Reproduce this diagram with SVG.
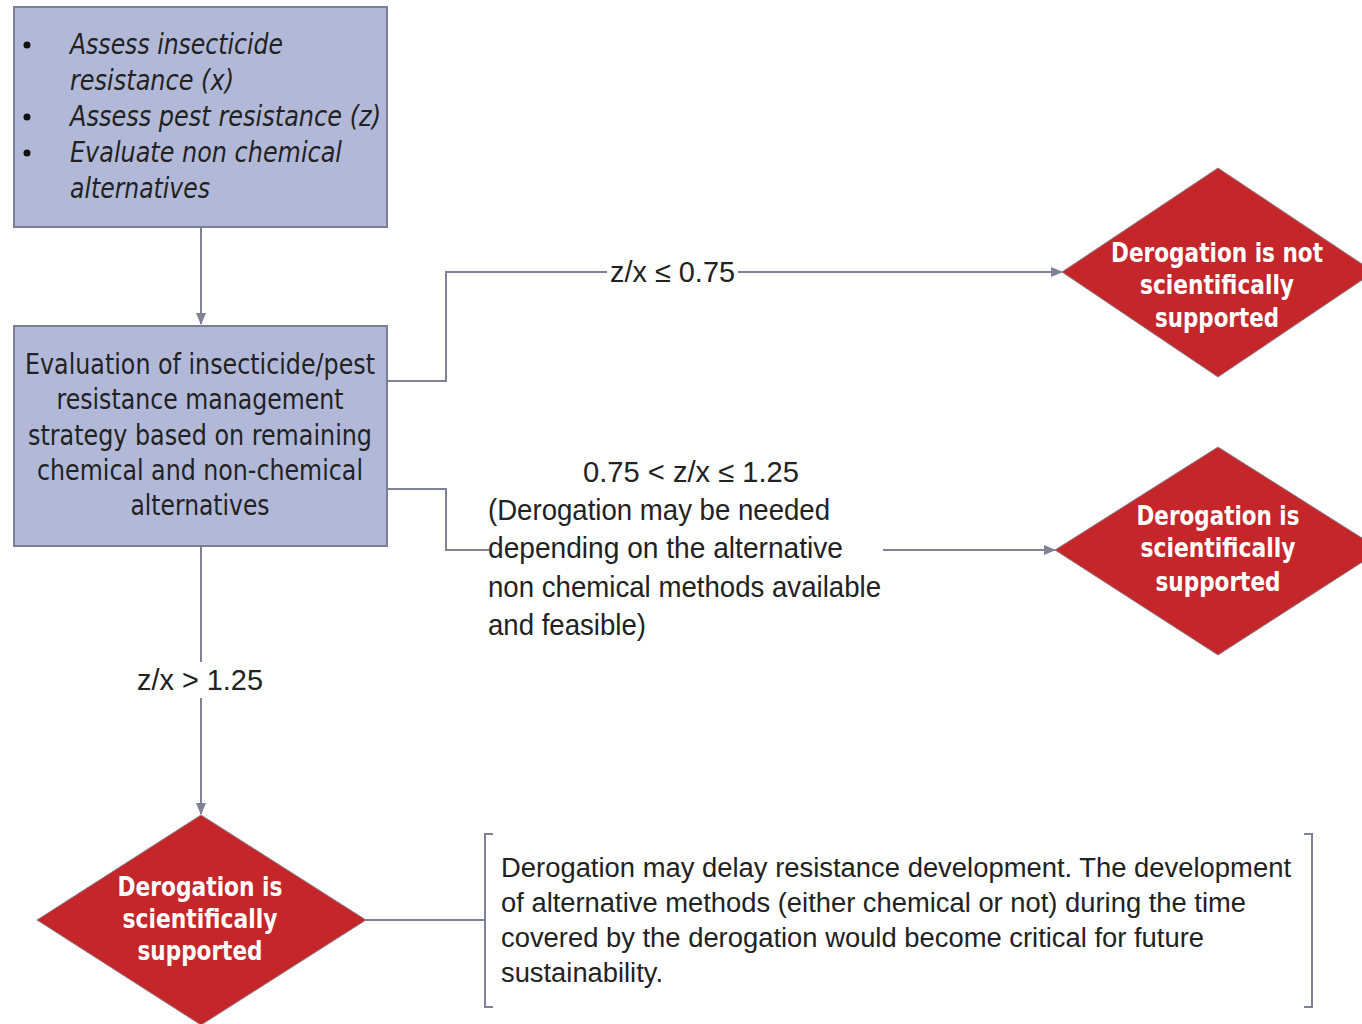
<svg xmlns="http://www.w3.org/2000/svg" width="1362" height="1024" viewBox="0 0 1362 1024">
<style>
.box{fill:#b2b9d8;stroke:#7b7f95;stroke-width:2}
.dia{fill:#c4262a;stroke:#8a7f8a;stroke-width:1}
.conn{fill:none;stroke:#7f8196;stroke-width:2}
.bg{fill:#ffffff}
.it{font-family:"DejaVu Sans",Verdana,sans-serif;font-style:italic;font-size:28px;fill:#222}
.bx{font-family:"DejaVu Sans",Verdana,sans-serif;font-size:28px;fill:#222;text-anchor:middle}
.dt{font-family:"DejaVu Sans",Verdana,sans-serif;font-weight:bold;font-size:26px;fill:#ffffff;text-anchor:middle}
.lb{font-family:"Liberation Sans",Arial,sans-serif;font-size:29px;fill:#222}
.nt{font-family:"Liberation Sans",Arial,sans-serif;font-size:27px;fill:#222}
</style>
<defs>
<marker id="arr" markerWidth="12" markerHeight="10" refX="11" refY="5" orient="auto" markerUnits="userSpaceOnUse">
<path d="M0,0 L12,5 L0,10 Z" fill="#7f8196"/>
</marker>
</defs>

<g id="connectors">
<path class="conn" d="M201,227 V324" marker-end="url(#arr)"/>
<path class="conn" d="M387,381 H446 V272 H1062" marker-end="url(#arr)"/>
<path class="conn" d="M387,489 H446 V550 H1055" marker-end="url(#arr)"/>
<path class="conn" d="M201,546 V814" marker-end="url(#arr)"/>
<path class="conn" d="M366,920 H484"/>
<rect class="bg" x="607" y="257" width="131" height="32"/>
<rect class="bg" x="489" y="452" width="394" height="195"/>
<rect class="bg" x="130" y="662" width="140" height="36"/>
<text class="lb" x="610" y="282" textLength="125" lengthAdjust="spacingAndGlyphs">z/x ≤ 0.75</text>
<text class="lb" x="583" y="482" textLength="216" lengthAdjust="spacingAndGlyphs">0.75 &lt; z/x ≤ 1.25</text>
<text class="lb" x="488" y="520" textLength="342" lengthAdjust="spacingAndGlyphs">(Derogation may be needed</text>
<text class="lb" x="488" y="558" textLength="355" lengthAdjust="spacingAndGlyphs">depending on the alternative</text>
<text class="lb" x="488" y="597" textLength="393" lengthAdjust="spacingAndGlyphs">non chemical methods available</text>
<text class="lb" x="488" y="635" textLength="158" lengthAdjust="spacingAndGlyphs">and feasible)</text>
<text class="lb" x="137" y="690" textLength="126" lengthAdjust="spacingAndGlyphs">z/x &gt; 1.25</text>
</g>

<g id="assess">
<rect class="box" x="14" y="7" width="373" height="220"/>
<circle cx="27" cy="45" r="3.5" fill="#111"/>
<circle cx="27" cy="117" r="3.5" fill="#111"/>
<circle cx="27" cy="153" r="3.5" fill="#111"/>
<text class="it" x="70" y="54" textLength="213" lengthAdjust="spacingAndGlyphs">Assess insecticide</text>
<text class="it" x="70" y="90" textLength="164" lengthAdjust="spacingAndGlyphs">resistance (x)</text>
<text class="it" x="70" y="126" textLength="311" lengthAdjust="spacingAndGlyphs">Assess pest resistance (z)</text>
<text class="it" x="70" y="162" textLength="272" lengthAdjust="spacingAndGlyphs">Evaluate non chemical</text>
<text class="it" x="70" y="198" textLength="140" lengthAdjust="spacingAndGlyphs">alternatives</text>
</g>

<g id="evaluation">
<rect class="box" x="14" y="326" width="373" height="220"/>
<text class="bx" x="200" y="374" textLength="350" lengthAdjust="spacingAndGlyphs">Evaluation of insecticide/pest</text>
<text class="bx" x="200" y="409" textLength="287" lengthAdjust="spacingAndGlyphs">resistance management</text>
<text class="bx" x="200" y="445" textLength="344" lengthAdjust="spacingAndGlyphs">strategy based on remaining</text>
<text class="bx" x="200" y="480" textLength="326" lengthAdjust="spacingAndGlyphs">chemical and non-chemical</text>
<text class="bx" x="200" y="515" textLength="139" lengthAdjust="spacingAndGlyphs">alternatives</text>
</g>

<g id="not-supported">
<polygon class="dia" points="1062,272 1218,168 1374,272 1218,377"/>
<text class="dt" x="1217" y="262" textLength="212" lengthAdjust="spacingAndGlyphs">Derogation is not</text>
<text class="dt" x="1217" y="294" textLength="154" lengthAdjust="spacingAndGlyphs">scientifically</text>
<text class="dt" x="1217" y="327" textLength="124" lengthAdjust="spacingAndGlyphs">supported</text>
</g>

<g id="supported-mid">
<polygon class="dia" points="1055,550 1218,447 1381,550 1218,655"/>
<text class="dt" x="1218" y="525" textLength="163" lengthAdjust="spacingAndGlyphs">Derogation is</text>
<text class="dt" x="1218" y="557" textLength="155" lengthAdjust="spacingAndGlyphs">scientifically</text>
<text class="dt" x="1218" y="591" textLength="125" lengthAdjust="spacingAndGlyphs">supported</text>
</g>

<g id="supported-bottom">
<polygon class="dia" points="201,815 366,920 201,1025 37,920"/>
<text class="dt" x="200" y="896" textLength="165" lengthAdjust="spacingAndGlyphs">Derogation is</text>
<text class="dt" x="200" y="928" textLength="155" lengthAdjust="spacingAndGlyphs">scientifically</text>
<text class="dt" x="200" y="960" textLength="125" lengthAdjust="spacingAndGlyphs">supported</text>
</g>

<g id="note">
<path class="conn" d="M493,834 H485 V1007 H493"/>
<path class="conn" d="M1304,834 H1312 V1007 H1304"/>
<text class="nt" x="501" y="877" textLength="790" lengthAdjust="spacingAndGlyphs">Derogation may delay resistance development. The development</text>
<text class="nt" x="501" y="912" textLength="745" lengthAdjust="spacingAndGlyphs">of alternative methods (either chemical or not) during the time</text>
<text class="nt" x="501" y="947" textLength="703" lengthAdjust="spacingAndGlyphs">covered by the derogation would become critical for future</text>
<text class="nt" x="501" y="982" textLength="162" lengthAdjust="spacingAndGlyphs">sustainability.</text>
</g>
</svg>
